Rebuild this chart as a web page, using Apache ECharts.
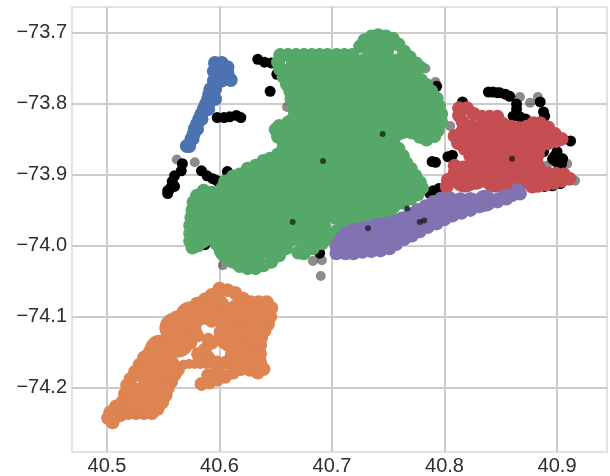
<!DOCTYPE html>
<html>
<head>
<meta charset="utf-8">
<title>NYC boroughs scatter</title>
<script src="https://cdn.jsdelivr.net/npm/echarts@6/dist/echarts.min.js"></script>
<style>
html, body { margin: 0; padding: 0; background: #fff; }
#main { width: 610px; height: 476px; }
</style>
</head>
<body>
<div id="main"></div>
<script>
// axis ticks
var xTicks = [40.5, 40.6, 40.7, 40.8, 40.9];
var yTicks = [-74.2, -74.1, -74.0, -73.9, -73.8, -73.7];

// noise points, [lat, lon]
var noiseSolid = [[40.634,-73.738],[40.640,-73.742],[40.646,-73.743],[40.651,-73.759],[40.645,-73.783],
  [40.598,-73.820],[40.604,-73.820],[40.609,-73.819],[40.615,-73.817],[40.619,-73.820],
  [40.567,-73.885],[40.566,-73.895],[40.560,-73.902],[40.558,-73.910],[40.558,-73.917],[40.560,-73.917],[40.554,-73.923],[40.556,-73.920],[40.554,-73.927],
  [40.584,-73.895],[40.589,-73.902],[40.594,-73.906],[40.598,-73.909],[40.602,-73.912],[40.607,-73.896],
  [40.793,-73.776],[40.789,-73.882],[40.792,-73.883],[40.816,-73.798],[40.816,-73.836],[40.821,-73.836],[40.825,-73.834],[40.803,-73.875],[40.807,-73.873],
  [40.787,-73.927],[40.790,-73.923],[40.795,-73.920],
  [40.839,-73.784],[40.843,-73.784],[40.847,-73.785],[40.849,-73.785],[40.854,-73.787],[40.858,-73.790],
  [40.885,-73.798],[40.888,-73.812],[40.889,-73.818],[40.864,-73.801],[40.864,-73.808],[40.861,-73.818],[40.867,-73.819],[40.872,-73.822],[40.869,-73.826],
  [40.900,-73.868],[40.898,-73.874],[40.896,-73.878],[40.899,-73.882],[40.905,-73.878],[40.904,-73.885],[40.912,-73.853],[40.888,-73.868],[40.896,-73.916],[40.889,-73.917],[40.903,-73.913],
  [40.689,-74.011],[40.587,-73.999]];
var noiseFaint = [[40.562,-73.879],[40.578,-73.883],[40.660,-73.805],[40.792,-73.770],[40.805,-73.832],[40.867,-73.791],[40.876,-73.799],[40.883,-73.791],
  [40.909,-73.885],[40.891,-73.888],[40.916,-73.909],[40.683,-74.022],[40.691,-74.021],[40.690,-74.043],[40.603,-74.028],[40.783,-73.751]];
var noiseOver = [[40.692,-73.881],[40.745,-73.843],[40.665,-73.967],[40.782,-73.965],[40.778,-73.967],[40.767,-73.948],[40.732,-73.976],[40.860,-73.878]];

var bluePts = [[40.596,-73.743],[40.602,-73.743],[40.607,-73.749],[40.595,-73.755],[40.602,-73.755],[40.607,-73.758],[40.610,-73.767],[40.595,-73.768],[40.602,-73.768],
  [40.592,-73.780],[40.596,-73.780],[40.591,-73.787],[40.594,-73.787],[40.590,-73.794],[40.596,-73.794],[40.588,-73.801],[40.586,-73.808],[40.590,-73.808],[40.584,-73.815],
  [40.582,-73.822],[40.584,-73.822],[40.580,-73.829],[40.578,-73.836],[40.580,-73.836],[40.577,-73.843],[40.575,-73.850],[40.576,-73.850],[40.571,-73.860],[40.573,-73.860]];

var greenEdge = [[40.654,-73.732],[40.661,-73.732],[40.668,-73.732],[40.675,-73.732],[40.682,-73.732],[40.689,-73.732],[40.696,-73.732],[40.704,-73.732],[40.711,-73.732],[40.718,-73.732],
  [40.725,-73.720],[40.729,-73.711],[40.735,-73.706],[40.741,-73.704],[40.748,-73.706],[40.754,-73.709],[40.759,-73.717],[40.764,-73.727],[40.769,-73.735],[40.775,-73.744],[40.778,-73.749],[40.773,-73.757],
  [40.779,-73.767],[40.784,-73.774],[40.788,-73.783],[40.793,-73.793],[40.795,-73.804],[40.797,-73.815],[40.797,-73.826],[40.794,-73.838],[40.791,-73.846],[40.784,-73.851],[40.778,-73.847],[40.771,-73.841],[40.764,-73.840],[40.759,-73.843],
  [40.754,-73.854],[40.759,-73.864],[40.763,-73.874],[40.766,-73.884],[40.770,-73.892],[40.774,-73.902],[40.778,-73.911],[40.780,-73.919],[40.776,-73.928],[40.770,-73.934],[40.763,-73.940],[40.755,-73.945],
  [40.744,-73.951],[40.734,-73.956],[40.720,-73.962],[40.712,-73.967],[40.705,-73.979],[40.699,-73.990],[40.691,-73.997],[40.683,-74.004],[40.675,-74.011],
  [40.670,-74.010],[40.664,-73.992],[40.659,-74.004],[40.653,-74.014],[40.646,-74.023],[40.639,-74.028],[40.632,-74.032],[40.625,-74.032],[40.618,-74.029],[40.612,-74.023],[40.606,-74.015],[40.601,-74.007],[40.597,-73.997],
  [40.592,-73.988],[40.586,-73.994],[40.581,-74.000],[40.576,-74.003],[40.574,-73.994],[40.574,-73.983],[40.574,-73.972],[40.575,-73.961],[40.576,-73.950],[40.577,-73.939],[40.580,-73.930],[40.586,-73.923],[40.593,-73.926],
  [40.605,-73.917],[40.605,-73.910],[40.612,-73.903],[40.618,-73.900],[40.625,-73.892],[40.632,-73.888],[40.639,-73.881],[40.645,-73.878],[40.652,-73.872],[40.657,-73.864],[40.657,-73.854],[40.652,-73.847],[40.650,-73.837],[40.653,-73.832],
  [40.660,-73.832],[40.666,-73.826],[40.667,-73.815],[40.667,-73.804],[40.664,-73.794],[40.663,-73.783],[40.660,-73.773],[40.657,-73.763],[40.654,-73.752],[40.652,-73.742]];
var greenCore = [[40.741,-73.724],[40.760,-73.752],
  [40.672,-73.752],[40.691,-73.752],[40.711,-73.752],[40.730,-73.752],[40.750,-73.752],
  [40.676,-73.780],[40.696,-73.780],[40.715,-73.780],[40.735,-73.780],[40.754,-73.780],[40.771,-73.784],
  [40.680,-73.808],[40.700,-73.808],[40.720,-73.808],[40.739,-73.808],[40.759,-73.808],[40.778,-73.808],
  [40.667,-73.836],[40.687,-73.836],[40.706,-73.836],[40.726,-73.836],[40.745,-73.836],[40.765,-73.826],[40.783,-73.825],
  [40.665,-73.864],[40.678,-73.864],[40.697,-73.864],[40.717,-73.864],[40.736,-73.864],[40.749,-73.867],
  [40.636,-73.903],[40.656,-73.892],[40.675,-73.892],[40.695,-73.892],[40.714,-73.892],[40.734,-73.892],[40.753,-73.892],[40.758,-73.895],
  [40.609,-73.927],[40.625,-73.920],[40.644,-73.920],[40.664,-73.920],[40.683,-73.920],[40.703,-73.920],[40.722,-73.920],[40.742,-73.920],[40.761,-73.920],
  [40.587,-73.948],[40.607,-73.948],[40.626,-73.948],[40.646,-73.948],[40.665,-73.948],[40.685,-73.948],[40.704,-73.948],[40.724,-73.948],[40.744,-73.948],
  [40.587,-73.976],[40.607,-73.976],[40.626,-73.976],[40.646,-73.976],[40.665,-73.976],[40.685,-73.976],
  [40.609,-74.004],[40.629,-74.004],[40.646,-73.997],[40.680,-73.987]];

var purpleEdge = [[40.712,-73.983],[40.719,-73.978],[40.726,-73.976],[40.733,-73.974],[40.740,-73.971],[40.748,-73.969],[40.755,-73.967],[40.762,-73.962],[40.769,-73.956],[40.776,-73.950],[40.783,-73.945],[40.790,-73.939],[40.797,-73.934],
  [40.805,-73.934],[40.814,-73.935],[40.823,-73.935],[40.832,-73.935],[40.840,-73.935],[40.848,-73.935],[40.854,-73.930],[40.860,-73.929],[40.865,-73.922],[40.867,-73.927],
  [40.704,-74.011],[40.712,-74.011],[40.719,-74.011],[40.727,-74.009],[40.735,-74.008],[40.743,-74.007],[40.751,-74.004],[40.757,-73.998],[40.764,-73.991],[40.771,-73.986],[40.778,-73.980],[40.785,-73.974],[40.793,-73.969],[40.800,-73.963],
  [40.807,-73.958],[40.815,-73.954],[40.823,-73.950],[40.831,-73.945],[40.839,-73.941],[40.847,-73.938],[40.855,-73.934],[40.704,-74.001],[40.708,-73.991]];
var purpleCore = [[40.716,-73.994],[40.729,-73.993],[40.743,-73.987],[40.756,-73.981],[40.769,-73.972],[40.783,-73.960],[40.796,-73.951],[40.809,-73.945],[40.823,-73.941],[40.836,-73.937]];

var redEdge = [[40.813,-73.807],[40.820,-73.807],[40.826,-73.815],[40.833,-73.819],[40.840,-73.819],[40.847,-73.819],[40.852,-73.829],[40.859,-73.833],[40.866,-73.835],[40.873,-73.833],[40.879,-73.828],[40.885,-73.828],
  [40.892,-73.834],[40.898,-73.843],[40.904,-73.850],[40.899,-73.853],[40.892,-73.856],[40.885,-73.861],[40.883,-73.872],[40.882,-73.884],[40.892,-73.899],[40.899,-73.899],[40.906,-73.900],[40.911,-73.906],[40.904,-73.909],[40.897,-73.912],[40.890,-73.914],[40.883,-73.916],[40.878,-73.917],
  [40.813,-73.817],[40.816,-73.826],[40.824,-73.833],[40.816,-73.839],[40.809,-73.846],[40.812,-73.856],[40.818,-73.864],[40.823,-73.874],[40.809,-73.888],[40.809,-73.898],[40.803,-73.908],[40.802,-73.917]];
var redCore = [[40.836,-73.843],[40.854,-73.850],[40.872,-73.853],[40.824,-73.853],[40.879,-73.847],[40.832,-73.871],[40.849,-73.878],[40.867,-73.878],
  [40.827,-73.899],[40.845,-73.903],[40.863,-73.903],[40.876,-73.895],[40.818,-73.903]];

var orangeEdge = [[40.600,-74.061],[40.607,-74.063],[40.614,-74.067],[40.621,-74.075],[40.628,-74.080],[40.635,-74.080],[40.642,-74.080],[40.646,-74.088],[40.645,-74.100],[40.643,-74.111],[40.640,-74.120],[40.637,-74.130],[40.636,-74.141],[40.636,-74.153],[40.636,-74.164],
  [40.639,-74.174],[40.634,-74.179],[40.627,-74.175],[40.619,-74.174],[40.612,-74.179],[40.605,-74.185],[40.598,-74.189],[40.591,-74.193],[40.584,-74.195],[40.590,-74.183],[40.599,-74.178],
  [40.593,-74.070],[40.587,-74.076],[40.580,-74.082],[40.574,-74.089],[40.568,-74.096],[40.561,-74.102],[40.555,-74.109],[40.553,-74.117],[40.556,-74.126],[40.552,-74.135],[40.545,-74.144],[40.538,-74.150],[40.533,-74.158],[40.529,-74.168],
  [40.525,-74.178],[40.521,-74.188],[40.518,-74.197],[40.516,-74.209],[40.514,-74.220],[40.508,-74.227],[40.503,-74.235],[40.501,-74.243],[40.505,-74.249],[40.512,-74.239],[40.519,-74.236],[40.526,-74.236],[40.533,-74.236],[40.540,-74.236],
  [40.545,-74.230],[40.549,-74.221],[40.552,-74.211],[40.554,-74.201],[40.557,-74.192],[40.560,-74.182],[40.563,-74.175],[40.519,-74.225],
  [40.583,-74.155],[40.590,-74.158],[40.587,-74.147],[40.593,-74.137],[40.600,-74.133],[40.581,-74.153],[40.598,-74.165],[40.606,-74.165],[40.613,-74.170],[40.590,-74.133],
  [40.587,-74.102],[40.593,-74.106],[40.601,-74.122],[40.605,-74.137],[40.611,-74.154],
  [40.574,-74.127],[40.578,-74.119],[40.569,-74.144],[40.574,-74.137],[40.580,-74.127]];
var orangeThin = [[40.568,-74.168],[40.573,-74.167],[40.578,-74.167],[40.583,-74.167],[40.588,-74.167],[40.593,-74.167]];
var orangeCore = [[40.529,-74.214],[40.543,-74.207],[40.538,-74.179],[40.552,-74.172],[40.547,-74.147],[40.563,-74.137],[40.560,-74.116],[40.574,-74.100],[40.596,-74.088],
  [40.618,-74.095],[40.629,-74.102],[40.609,-74.105],[40.627,-74.130],[40.611,-74.130],[40.627,-74.161],[40.621,-74.158]];

function scatter(data, color, size, opacity) {
    return {
        type: 'scatter',
        data: data,
        symbol: 'circle',
        symbolSize: size,
        itemStyle: {color: color, opacity: opacity},
        silent: true,
        animation: false
    };
}

var labelStyle = {color: '#2e2e2e', fontSize: 20, fontFamily: 'Liberation Sans'};

var chart = echarts.init(document.getElementById('main'), null, {renderer: 'canvas'});
chart.setOption({
    animation: false,
    grid: {
        left: 72, right: 3, top: 7, bottom: 21,
        show: true,
        borderColor: '#e2e2e2',
        borderWidth: 2
    },
    xAxis: {
        type: 'value',
        min: 40.4689,
        max: 40.9444,
        axisLine: {show: false},
        axisTick: {show: false, customValues: xTicks},
        axisLabel: Object.assign({customValues: xTicks, margin: 4, formatter: function (v) { return v.toFixed(1); }}, labelStyle),
        splitLine: {show: true, lineStyle: {color: '#cccccc', width: 2}}
    },
    yAxis: {
        type: 'value',
        min: -74.2909,
        max: -73.6643,
        axisLine: {show: false},
        axisTick: {show: false, customValues: yTicks},
        axisLabel: Object.assign({customValues: yTicks, margin: 5, formatter: function (v) { return '\u2212' + Math.abs(v).toFixed(1); }}, labelStyle),
        splitLine: {show: true, lineStyle: {color: '#cccccc', width: 2}}
    },
    series: [
        scatter(noiseFaint, '#000', 10, 0.45),
        scatter(noiseSolid, '#000', 11, 1),
        scatter(bluePts, '#4C72B0', 14, 1),
        scatter(orangeEdge, '#DD8452', 14, 1),
        scatter(orangeThin, '#DD8452', 10, 1),
        scatter(orangeCore, '#DD8452', 30, 1),
        scatter(greenEdge, '#55A868', 14, 1),
        scatter(greenCore, '#55A868', 32, 1),
        scatter(redEdge, '#C44E52', 14, 1),
        scatter(redCore, '#C44E52', 32, 1),
        scatter(purpleEdge, '#8172B2', 14, 1),
        scatter(purpleCore, '#8172B2', 22, 1),
        scatter(noiseOver, '#000', 6, 0.6)
    ]
});
</script>
</body>
</html>
